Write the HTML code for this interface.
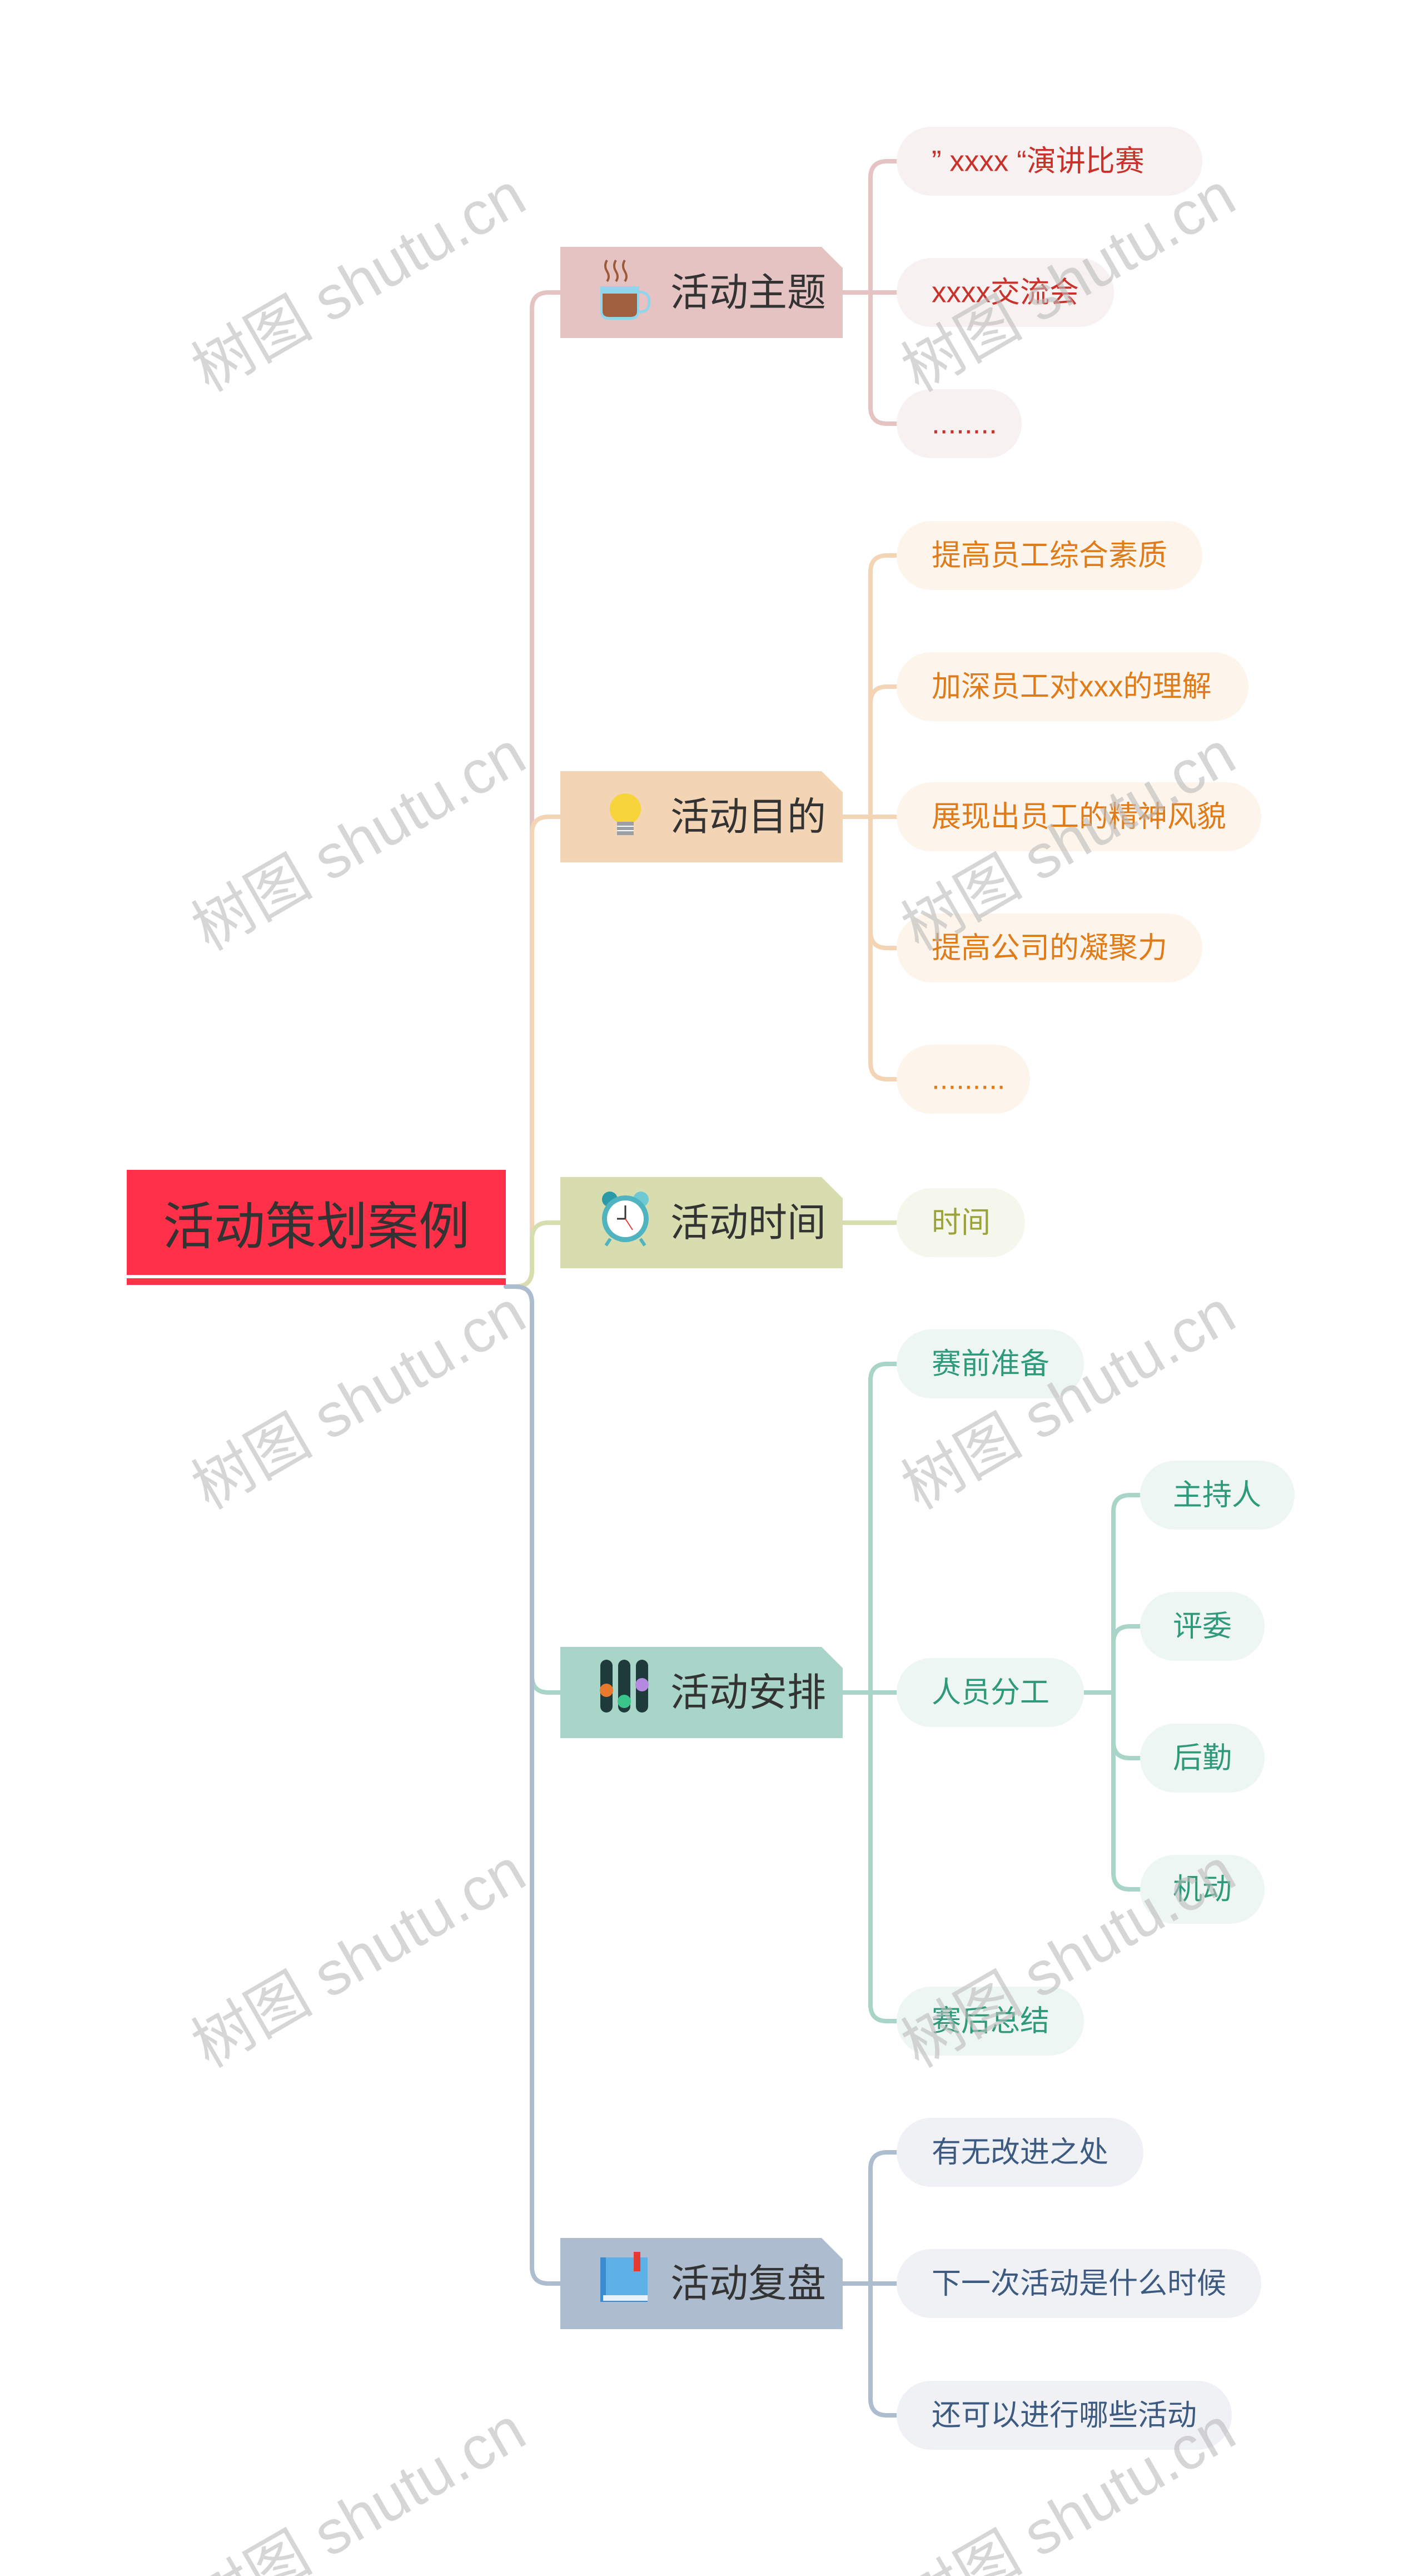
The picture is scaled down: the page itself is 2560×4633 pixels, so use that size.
<!DOCTYPE html>
<html><head><meta charset="utf-8"><style>
html,body{margin:0;padding:0;background:#fff;}
svg{display:block;}
text{font-family:"Liberation Sans","Noto Sans CJK SC",sans-serif;}
</style></head><body>
<svg width="2560" height="4633" viewBox="0 0 2560 4633" xmlns="http://www.w3.org/2000/svg">
<g fill="none" stroke-width="8" stroke-linecap="round">
<path stroke="#E6C3C3" d="M910,2314 H927 Q957,2314 957,2284 V556 Q957,526 987,526 H1008"/>
<path stroke="#F3D5B5" d="M910,2314 H927 Q957,2314 957,2284 V1499 Q957,1469 987,1469 H1008"/>
<path stroke="#D8DDB0" d="M910,2314 H927 Q957,2314 957,2284 V2229 Q957,2199 987,2199 H1008"/>
<path stroke="#A8D5C8" d="M910,2314 H927 Q957,2314 957,2344 V3014 Q957,3044 987,3044 H1008"/>
<path stroke="#ADBDCF" d="M910,2314 H927 Q957,2314 957,2344 V4077 Q957,4107 987,4107 H1008"/>
<path stroke="#E6C3C3" d="M1516,526 H1566 V320 Q1566,290 1596,290 H1613 M1566,526 H1613 M1566,526 V732 Q1566,762 1596,762 H1613"/>
<path stroke="#F3D5B5" d="M1516,1469 H1566 V1029 Q1566,999 1596,999 H1613 M1566,1265 Q1566,1235 1596,1235 H1613 M1566,1469 H1613 M1566,1469 V1911 Q1566,1941 1596,1941 H1613 M1566,1675 Q1566,1705 1596,1705 H1613"/>
<path stroke="#D8DDB0" d="M1516,2199 H1613"/>
<path stroke="#A8D5C8" d="M1516,3044 H1566 V2483 Q1566,2453 1596,2453 H1613 M1566,3044 H1613 M1566,3044 V3605 Q1566,3635 1596,3635 H1613"/>
<path stroke="#A8D5C8" d="M1950,3044 H2003 V2719 Q2003,2689 2033,2689 H2051 M2003,2955 Q2003,2925 2033,2925 H2051 M2003,3044 V3368 Q2003,3398 2033,3398 H2051 M2003,3132 Q2003,3162 2033,3162 H2051"/>
<path stroke="#ADBDCF" d="M1516,4107 H1566 V3901 Q1566,3871 1596,3871 H1613 M1566,4107 H1613 M1566,4107 V4314 Q1566,4344 1596,4344 H1613"/>
</g>

<rect x="228" y="2104" width="682" height="189" fill="#FF3048"/>
<rect x="228" y="2299" width="682" height="12" fill="#FF3048"/>
<text x="569" y="2207" font-size="92" fill="#333" text-anchor="middle" dominant-baseline="central">活动策划案例</text>

<g>
<polygon points="1008,444 1478,444 1516,482 1516,608 1008,608" fill="#E6C3C3"/>
<polygon points="1008,1387 1478,1387 1516,1425 1516,1551 1008,1551" fill="#F3D5B5"/>
<polygon points="1008,2117 1478,2117 1516,2155 1516,2281 1008,2281" fill="#D8DDB0"/>
<polygon points="1008,2962 1478,2962 1516,3000 1516,3126 1008,3126" fill="#A8D5C8"/>
<polygon points="1008,4025 1478,4025 1516,4063 1516,4189 1008,4189" fill="#ADBDCF"/>
</g>
<g font-size="70" fill="#333" dominant-baseline="central">
<text x="1206" y="526">活动主题</text>
<text x="1206" y="1469">活动目的</text>
<text x="1206" y="2199">活动时间</text>
<text x="1206" y="3044">活动安排</text>
<text x="1206" y="4107">活动复盘</text>
</g>
<g>
<path d="M1092,468 q-6,10 0,20 q6,10 0,18 M1108,468 q-6,10 0,20 q6,10 0,18 M1124,468 q-6,10 0,20 q6,10 0,18" stroke="#9B5A3A" stroke-width="4" fill="none"/>
<path d="M1080,515 H1150 V560 Q1150,575 1135,575 H1095 Q1080,575 1080,560 Z" fill="#8FD6EC"/>
<path d="M1084,528 H1146 V560 Q1146,570 1134,570 H1096 Q1084,570 1084,560 Z" fill="#A0603F"/>
<path d="M1150,525 q18,0 18,18 q0,18 -18,18" stroke="#8FD6EC" stroke-width="5" fill="none"/>
<circle cx="1125" cy="1455" r="28" fill="#F7D43A"/>
<rect x="1110" y="1478" width="30" height="24" fill="#9AA0A6"/>
<path d="M1110,1486 H1140 M1110,1494 H1140" stroke="#fff" stroke-width="2"/>
<circle cx="1097" cy="2157" r="14" fill="#2A9BA6"/>
<circle cx="1153" cy="2157" r="14" fill="#6FC9D3"/>
<circle cx="1125" cy="2192" r="42" fill="#4FB4BF"/>
<circle cx="1125" cy="2192" r="33" fill="#fff"/>
<path d="M1125,2192 V2168 M1125,2192 H1110" stroke="#333" stroke-width="3"/>
<path d="M1125,2192 L1138,2212" stroke="#E53935" stroke-width="2"/>
<path d="M1098,2228 l-8,12 M1152,2228 l8,12" stroke="#4FB4BF" stroke-width="6"/>
<rect x="1080" y="2985" width="22" height="95" rx="11" fill="#1F3A3A"/>
<rect x="1112" y="2985" width="22" height="95" rx="11" fill="#1F3A3A"/>
<rect x="1144" y="2985" width="22" height="95" rx="11" fill="#1F3A3A"/>
<circle cx="1091" cy="3040" r="12" fill="#E87A2E"/>
<circle cx="1123" cy="3060" r="12" fill="#3BC48A"/>
<circle cx="1155" cy="3030" r="12" fill="#B48AE0"/>
<rect x="1080" y="4060" width="85" height="80" fill="#3C8BD1"/>
<rect x="1090" y="4060" width="75" height="68" fill="#5DB0E8"/>
<rect x="1085" y="4128" width="80" height="10" fill="#E8F2FA"/>
<rect x="1140" y="4050" width="12" height="35" fill="#E53935"/>
</g>

<g>
<rect x="1613" y="228" width="550" height="124" rx="62" fill="#F8F1F1"/>
<rect x="1613" y="464" width="391" height="124" rx="62" fill="#F8F1F1"/>
<rect x="1613" y="700" width="225" height="124" rx="62" fill="#F8F1F1"/>
<rect x="1613" y="937" width="550" height="124" rx="62" fill="#FDF5EC"/>
<rect x="1613" y="1173" width="633" height="124" rx="62" fill="#FDF5EC"/>
<rect x="1613" y="1407" width="656" height="124" rx="62" fill="#FDF5EC"/>
<rect x="1613" y="1643" width="550" height="124" rx="62" fill="#FDF5EC"/>
<rect x="1613" y="1879" width="240" height="124" rx="62" fill="#FDF5EC"/>
<rect x="1613" y="2137" width="231" height="124" rx="62" fill="#F5F6EC"/>
<rect x="1613" y="2391" width="337" height="124" rx="62" fill="#EEF6F3"/>
<rect x="1613" y="2982" width="337" height="124" rx="62" fill="#EEF6F3"/>
<rect x="1613" y="3573" width="337" height="124" rx="62" fill="#EEF6F3"/>
<rect x="2051" y="2627" width="278" height="124" rx="62" fill="#EEF6F3"/>
<rect x="2051" y="2863" width="224" height="124" rx="62" fill="#EEF6F3"/>
<rect x="2051" y="3100" width="224" height="124" rx="62" fill="#EEF6F3"/>
<rect x="2051" y="3336" width="224" height="124" rx="62" fill="#EEF6F3"/>
<rect x="1613" y="3809" width="444" height="124" rx="62" fill="#EFF1F5"/>
<rect x="1613" y="4045" width="656" height="124" rx="62" fill="#EFF1F5"/>
<rect x="1613" y="4282" width="603" height="124" rx="62" fill="#EFF1F5"/>
</g>
<g font-size="53" dominant-baseline="central">
<g fill="#C8322A">
<text x="1676" y="290">” xxxx “演讲比赛</text>
<text x="1676" y="526">xxxx交流会</text>
<text x="1676" y="762">........</text>
</g>
<g fill="#E07B1A">
<text x="1676" y="999">提高员工综合素质</text>
<text x="1676" y="1235">加深员工对xxx的理解</text>
<text x="1676" y="1469">展现出员工的精神风貌</text>
<text x="1676" y="1705">提高公司的凝聚力</text>
<text x="1676" y="1941">.........</text>
</g>
<text x="1676" y="2199" fill="#9AA33A">时间</text>
<g fill="#2E9A7A">
<text x="1676" y="2453">赛前准备</text>
<text x="1676" y="3044">人员分工</text>
<text x="1676" y="3635">赛后总结</text>
<text x="2110" y="2689">主持人</text>
<text x="2110" y="2925">评委</text>
<text x="2110" y="3162">后勤</text>
<text x="2110" y="3398">机动</text>
</g>
<g fill="#3D5A80">
<text x="1676" y="3871">有无改进之处</text>
<text x="1676" y="4107">下一次活动是什么时候</text>
<text x="1676" y="4344">还可以进行哪些活动</text>
</g>
</g>

<g font-family="Liberation Serif,'Noto Serif CJK SC',serif" font-size="110" fill="#bbb" fill-opacity="0.6" text-anchor="middle">
<text transform="translate(664,540) rotate(-30)">树图 shutu.cn</text>
<text transform="translate(1941,540) rotate(-30)">树图 shutu.cn</text>
<text transform="translate(664,1545) rotate(-30)">树图 shutu.cn</text>
<text transform="translate(1941,1545) rotate(-30)">树图 shutu.cn</text>
<text transform="translate(664,2550) rotate(-30)">树图 shutu.cn</text>
<text transform="translate(1941,2550) rotate(-30)">树图 shutu.cn</text>
<text transform="translate(664,3554) rotate(-30)">树图 shutu.cn</text>
<text transform="translate(1941,3554) rotate(-30)">树图 shutu.cn</text>
<text transform="translate(664,4559) rotate(-30)">树图 shutu.cn</text>
<text transform="translate(1941,4559) rotate(-30)">树图 shutu.cn</text>
</g>
</svg>
</body></html>
